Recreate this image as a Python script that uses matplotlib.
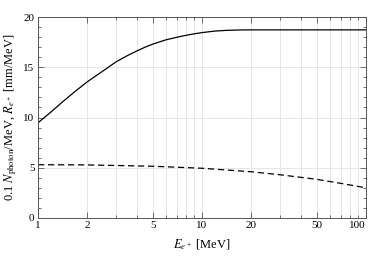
import matplotlib
matplotlib.use("Agg")
import matplotlib.pyplot as plt
from matplotlib.ticker import FixedLocator, NullFormatter, MultipleLocator

plt.rcParams['font.family'] = 'Liberation Serif'
plt.rcParams['mathtext.fontset'] = 'stix'

# range R_e+ (solid)
e_range = [1, 1.2, 1.41, 1.7, 2, 2.5, 3, 3.5, 4, 4.5, 5, 6, 7, 8, 9, 10, 12, 14, 17, 20, 30, 50, 100]
r_range = [9.47, 10.55, 11.55, 12.65, 13.56, 14.65, 15.55, 16.15, 16.62, 17.0, 17.3, 17.72, 17.98, 18.18,
           18.33, 18.45, 18.6, 18.67, 18.71, 18.72, 18.72, 18.72, 18.72]

# 0.1 N_photon/MeV (dashed)
e_phot = [1, 2, 5, 10, 20, 30, 50, 70, 100]
n_phot = [5.3, 5.28, 5.15, 4.95, 4.6, 4.3, 3.85, 3.45, 3.0]

xticks = [1, 2, 5, 10, 20, 50, 100]
xtick_labels = ['1', '2', '5', '10', '20', '50', '100']

fig = plt.figure(figsize=(3.74, 2.57), dpi=100)
ax = fig.add_axes([0.1016, 0.1518, 0.877, 0.782])

ax.plot(e_range, r_range, color='black', lw=0.9)
ax.plot(e_phot, n_phot, color='black', lw=0.9, ls=(0, (5, 3)))

ax.set_xscale('log')
ax.set_xlim(1, 100)
ax.set_ylim(0, 20)

minors = [m * d for d in (1, 10) for m in range(2, 10)]
ax.xaxis.set_major_locator(FixedLocator(xticks))
ax.set_xticklabels(xtick_labels)
ax.xaxis.set_minor_locator(FixedLocator(minors))
ax.xaxis.set_minor_formatter(NullFormatter())
ax.yaxis.set_major_locator(MultipleLocator(5))
ax.yaxis.set_minor_locator(MultipleLocator(1))

ax.grid(which='both', axis='x', color='#e6e6e6', lw=0.7)
ax.grid(which='major', axis='y', color='#e6e6e6', lw=0.7)
ax.set_axisbelow(True)

ax.tick_params(which='both', direction='in', top=True, right=True,
               labelsize=8, color='#555555', width=0.6)
ax.tick_params(which='major', length=4, pad=2.5)
ax.tick_params(which='minor', length=2)
for s in ax.spines.values():
    s.set_color('#555555')
    s.set_linewidth(0.7)

# last tick label pulled inside the figure
ax.get_xticklabels()[-1].set_horizontalalignment('right')

ax.set_xlabel(r'$E_{e^+}$ [MeV]', fontsize=9, labelpad=5)
ax.set_ylabel(r'0.1 $N_{\rm photon}$/MeV, $R_{e^+}$ [mm/MeV]', fontsize=9, labelpad=3)

fig.savefig('out.png', dpi=100)
